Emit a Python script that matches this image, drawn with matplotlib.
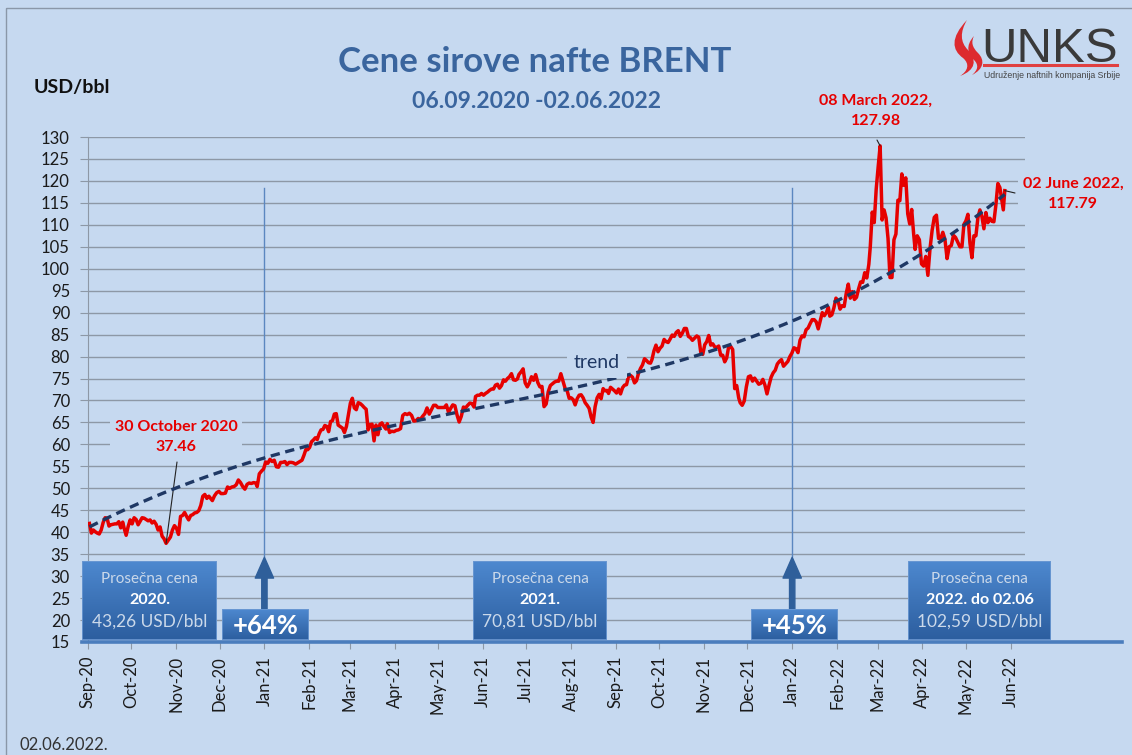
"""Brent crude price chart, Sep 2020 - Jun 2022, with trend and yearly averages."""

import matplotlib

matplotlib.use("Agg")

import matplotlib.dates as mdates
import matplotlib.pyplot as plt
import matplotlib.transforms as mtransforms
import numpy as np
import pandas as pd
from matplotlib.lines import Line2D
from matplotlib.patches import PathPatch, Rectangle
from matplotlib.path import Path

# --- data: Brent close, USD/bbl, one list per calendar month ---------------
sep20 = [42.0, 39.8, 40.5, 40.1, 39.8, 39.6, 40.5, 42.2, 43.3, 43.2, 41.4, 41.7,
         41.8, 41.9, 41.9, 42.4, 41.0, 42.3]
oct20 = [40.9, 39.3, 41.3, 42.8, 41.9, 43.3, 42.9, 41.7, 42.5, 43.3, 43.2, 42.9,
         42.6, 42.8, 42.1, 42.5, 41.8, 40.5, 41.2, 39.1, 38.5, 37.46]
nov20 = [38.9, 40.5, 41.5, 40.9, 39.5, 43.6, 43.8, 44.5, 43.6, 42.8, 43.8, 44.0,
         44.4, 44.5, 44.9, 46.1, 48.2, 48.6, 47.7, 48.2, 47.6]
dec20 = [47.2, 48.3, 49.0, 49.3, 48.8, 48.8, 48.9, 50.3, 50.0, 50.3, 50.4, 50.8,
         51.9, 51.3, 50.4, 49.8, 50.9, 51.2, 51.1, 51.3, 51.2]
jan21 = [50.4, 53.3, 53.9, 54.4, 56.0, 55.7, 56.6, 56.1, 56.4, 54.9, 54.8, 55.9,
         55.9, 56.1, 55.4, 55.9, 55.9, 55.8, 55.5, 55.8]
feb21 = [56.4, 57.5, 58.8, 58.8, 59.3, 60.6, 61.0, 61.5, 61.1, 62.4, 63.3, 63.4,
         64.3, 64.1, 62.9, 65.2, 65.4, 66.9, 67.0, 64.4]
mar21 = [63.7, 62.7, 64.1, 66.7, 69.4, 70.5, 68.3, 67.9, 69.5, 69.3, 68.9, 68.4,
         68.0, 63.3, 64.5, 64.6, 60.8, 64.4, 62.2, 64.6, 64.9, 64.1, 63.5]
apr21 = [64.7, 62.7, 63.0, 62.9, 63.2, 63.3, 63.6, 66.6, 67.0, 66.8, 67.1, 66.6,
         65.3, 65.4, 65.9, 65.7, 66.4, 67.0, 68.3, 66.9]
may21 = [68.9, 68.9, 68.4, 68.4, 68.4, 68.4, 69.0, 67.3, 68.2, 69.0, 68.8, 66.7,
         65.1, 66.4, 68.5, 68.3, 68.9, 69.4, 69.3, 68.5]
jun21 = [70.9, 71.2, 71.2, 71.6, 71.2, 71.6, 71.9, 72.3, 72.6, 72.6, 73.5, 73.7,
         72.8, 73.4, 74.7, 74.4, 75.0, 75.4, 76.1, 74.7, 74.6, 74.9]
jul21 = [75.9, 76.5, 77.2, 74.0, 73.1, 74.0, 75.4, 74.6, 75.9, 74.1, 73.1, 73.2,
         68.6, 69.2, 72.0, 73.4, 73.8, 74.2, 74.4, 74.4, 76.1]
aug21 = [72.7, 72.2, 70.5, 70.6, 70.2, 69.0, 70.4, 71.2, 71.3, 70.6, 69.5, 68.9,
         68.2, 66.2, 65.0, 68.6, 70.6, 71.4, 70.4, 72.7, 72.2, 72.3]
sep21 = [71.6, 73.0, 72.6, 72.2, 71.7, 72.6, 71.5, 72.9, 73.5, 73.6, 75.5, 75.7,
         75.3, 74.0, 74.5, 76.2, 77.3, 78.1, 79.5, 79.1, 78.6, 78.5]
oct21 = [79.3, 81.3, 82.6, 81.1, 81.9, 82.4, 83.9, 83.4, 83.2, 84.0, 84.9, 84.6,
         85.5, 85.9, 84.6, 85.3, 86.4, 86.4, 84.6, 84.3, 83.7]
nov21 = [84.7, 84.4, 81.0, 80.5, 82.7, 83.4, 84.8, 82.6, 82.9, 82.2, 82.1, 82.4,
         80.3, 80.3, 78.8, 79.7, 82.3, 82.3, 81.6, 72.7, 73.4, 70.6]
dec21 = [69.5, 68.9, 69.9, 73.1, 75.4, 75.6, 74.4, 75.1, 74.4, 73.7, 73.9, 74.8,
         73.5, 71.5, 73.5, 75.3, 76.3, 76.9, 78.3, 78.9, 79.3, 77.8]
jan22 = [78.9, 80.0, 80.8, 82.0, 81.8, 80.9, 83.7, 84.7, 84.5, 86.1, 86.5, 87.5,
         88.4, 88.4, 87.9, 86.3, 88.2, 90.0, 89.3, 90.0, 91.2]
feb22 = [89.2, 89.5, 91.1, 93.3, 92.7, 90.8, 91.6, 91.4, 94.4, 96.5, 93.3, 94.8,
         93.0, 93.5, 95.4, 97.0, 96.9, 99.1, 97.9, 101.0]
mar22 = [105.0, 112.9, 110.5, 118.1, 123.2, 127.98, 111.1, 113.4, 111.6, 106.9,
         98.0, 98.0, 106.6, 107.9, 115.6, 115.5, 121.6, 119.0, 120.7, 112.5,
         110.2, 113.5, 107.9]
apr22 = [104.4, 107.5, 106.6, 101.1, 100.6, 102.8, 98.5, 104.6, 108.8, 111.7,
         112.2, 106.9, 106.8, 108.3, 106.7, 102.3, 105.0, 105.3, 107.6, 107.1]
may22 = [105.0, 105.0, 110.1, 110.9, 112.4, 105.9, 102.5, 107.5, 107.5, 111.6,
         113.4, 111.9, 109.1, 112.8, 110.5, 111.5, 110.8, 110.7, 114.5, 119.4,
         118.5, 115.6]
jun22 = [113.4, 117.79]

monthly = [sep20, oct20, nov20, dec20, jan21, feb21, mar21, apr21, may21, jun21,
           jul21, aug21, sep21, oct21, nov21, dec21, jan22, feb22, mar22, apr22,
           may22, jun22]
first_day = pd.Timestamp("2020-09-07")
last_day = pd.Timestamp("2022-06-02")

# trend line: days after 06.09.2020 and USD/bbl
trend_days = [0, 57, 122, 156, 181, 211, 244, 313, 382, 444, 491, 525, 556, 594, 617, 636]
trend_vals = [41.6, 48.7, 56.4, 60.2, 62.5, 64.3, 67.0, 71.5, 76.0, 82.2, 88.5, 94.5,
              99.7, 106.6, 112.7, 117.5]

avg_labels = [("2020.", "43,26 USD/bbl"), ("2021.", "70,81 USD/bbl"),
              ("2022. do 02.06", "102,59 USD/bbl")]
change_labels = ["+64%", "+45%"]
change_dates = ["2021-01-06", "2022-01-06"]

# --- style ------------------------------------------------------------------
W, H = 1132, 755
BG = "#c6d9f0"
RED = "#e60000"
NAVY = "#1f3864"
TITLE = "#3a659e"
GRID = "#8d98a6"

plt.rcParams["font.family"] = ["Lato", "DejaVu Sans"]

dates, prices = [], []
for i, vals in enumerate(monthly):
    per = pd.Period("2020-09", "M") + i
    days = pd.bdate_range(max(per.start_time, first_day),
                          min(per.end_time.normalize(), last_day))
    x = np.linspace(mdates.date2num(days[0]), mdates.date2num(days[-1]), len(vals))
    dates.extend(x)
    prices.extend(vals)
dates = np.array(dates)
prices = np.array(prices)

# polynomial (order 3) trend through the values
x0 = mdates.date2num(pd.Timestamp("2020-09-06"))
t = dates - x0
trend = np.polyval(np.polyfit(trend_days, trend_vals, 3), t)

fig = plt.figure(figsize=(W / 100, H / 100), dpi=100, facecolor=BG)
px = mtransforms.Affine2D().scale(1 / W, -1 / H).translate(0, 1) + fig.transFigure

ax = fig.add_axes([88 / W, 1 - 642 / H, (1025 - 88) / W, (642 - 137) / H])
ax.set_facecolor(BG)

ax.plot(dates, prices, color=RED, lw=2.5, zorder=3)
ax.plot(dates, trend, color=NAVY, lw=2.4, ls=(0, (2.8, 1.7)), zorder=4)

ax.set_xlim(x0, x0 + 648)
ax.set_ylim(15, 130)
ax.set_yticks(np.arange(15, 131, 5))
ticks = pd.date_range("2020-09-06", "2022-06-06", freq=pd.DateOffset(months=1))
ax.set_xticks(mdates.date2num(ticks))
ax.set_xticklabels([d.strftime("%b-%y") for d in ticks], rotation=90, fontsize=12)
ax.tick_params(axis="y", length=6, color=GRID, labelsize=12, pad=7, labelcolor="#1a1a1a")
ax.tick_params(axis="x", length=5, color=GRID, pad=5, labelcolor="#1a1a1a")
ax.yaxis.grid(True, color=GRID, lw=1.0)
ax.set_axisbelow(True)
for side in ("top", "right", "bottom"):
    ax.spines[side].set_visible(False)
ax.spines["left"].set_color(GRID)

# vertical markers and arrows at the year boundaries
for d in change_dates:
    xd = mdates.date2num(pd.Timestamp(d))
    ax.plot([xd, xd], [34.5, 118.4], color="#5b87c0", lw=1.0, zorder=2, clip_on=False)
    ax.annotate("", xy=(xd, 34.3), xytext=(xd, 22.4), annotation_clip=False,
                arrowprops=dict(arrowstyle="simple,head_length=1.25,head_width=1.1,tail_width=0.32",
                                color="#2f5f9a", mutation_scale=12, shrinkA=0, shrinkB=0))

# trend label
ax.text(mdates.date2num(pd.Timestamp("2021-09-01")) - 8, 78.6, "trend", fontsize=14,
        color=NAVY, ha="center", va="center", zorder=5,
        bbox=dict(boxstyle="square,pad=0.35", fc=BG, ec="none"))

# point labels
i_min = int(np.argmin(prices[:80]))
i_max = int(np.argmax(prices))
lab = dict(fontsize=11.5, fontweight="bold", color=RED, ha="center", va="center",
           linespacing=1.55, transform=px, zorder=6)
box = dict(boxstyle="square,pad=0.3", fc=BG, ec="none")
fig.text(176, 437, f"30 October 2020\n{prices[i_min]:.2f}", bbox=box, **lab)
fig.text(876, 111, f"08 March 2022,\n{prices[i_max]:.2f}", bbox=box, **lab)
fig.text(1073, 194, f"02 June 2022,\n{prices[-1]:.2f}", bbox=box, **lab)
lead = dict(arrowstyle="-", color="#222222", lw=0.8, shrinkA=0, shrinkB=0)
ax.annotate("", xy=(dates[i_min], prices[i_min]), xytext=(177, 462), textcoords=px,
            arrowprops=lead, annotation_clip=False)
ax.annotate("", xy=(dates[i_max], prices[i_max]), xytext=(877, 140), textcoords=px,
            arrowprops=lead, annotation_clip=False)
ax.annotate("", xy=(dates[-1], prices[-1]), xytext=(1015, 193), textcoords=px,
            arrowprops=lead, annotation_clip=False)

# baseline bar
fig.add_artist(Line2D([82, 1122], [642, 642], transform=px, color="#4a7dbd", lw=2.6))


def blue_box(x0, y0, x1, y1):
    bax = fig.add_axes([x0 / W, 1 - y1 / H, (x1 - x0) / W, (y1 - y0) / H])
    grad = np.linspace(0, 1, 64).reshape(-1, 1)
    bax.imshow(grad, aspect="auto", extent=(0, 1, 0, 1), origin="upper",
               cmap=matplotlib.colors.LinearSegmentedColormap.from_list(
                   "b", ["#4d88cf", "#2c5e9f"]))
    bax.add_patch(Rectangle((0, 0), 1, 1, transform=bax.transAxes, fill=False,
                            ec="#6d9ad3", lw=1.2))
    bax.axis("off")


light = "#cbd9ea"
for (x0b, x1b), (year, avg) in zip([(82, 217), (473, 607), (908, 1051)], avg_labels):
    blue_box(x0b, 561, x1b, 640)
    xc = (x0b + x1b) / 2
    fig.text(xc, 579, "Prosečna cena", transform=px, ha="center", va="center",
             fontsize=11, color=light)
    fig.text(xc, 600, year, transform=px, ha="center", va="center",
             fontsize=11.5, fontweight="bold", color="white")
    fig.text(xc, 622, avg, transform=px, ha="center", va="center",
             fontsize=12.5, color=light)

for (x0b, x1b), txt in zip([(222, 309), (751, 838)], change_labels):
    blue_box(x0b, 609, x1b, 640)
    fig.text((x0b + x1b) / 2, 626, txt, transform=px, ha="center", va="center",
             fontsize=18.5, fontweight="bold", color="white")

# titles
fig.text(535, 62, "Cene sirove nafte BRENT", transform=px, ha="center", va="center",
         fontsize=25, fontweight="bold", color=TITLE)
fig.text(536, 101, "06.09.2020 -02.06.2022", transform=px, ha="center", va="center",
         fontsize=16.5, fontweight="bold", color=TITLE)
fig.text(34, 87, "USD/bbl", transform=px, ha="left", va="center",
         fontsize=14, fontweight="bold", color="#111111")
fig.text(19, 745, "02.06.2022.", transform=px, ha="left", va="center",
         fontsize=12, color="#333333")

# logo
fig.text(981, 62, "UNKS", transform=px, ha="left", va="baseline", fontsize=35.5,
         family="Liberation Sans", color="#3a3a3a")
fig.add_artist(Line2D([984, 1117], [65, 65], transform=px, color="#e04040", lw=2.2))
fig.text(984, 75, "Udruženje naftnih kompanija Srbije", transform=px, ha="left",
         va="center", fontsize=6.3, family="Liberation Sans", color="#444444")
C4 = Path.CURVE4
flame_outer = Path([(967, 20), (950, 38), (952, 50), (963, 58), (970, 64), (968, 71),
                    (960, 76), (976, 70), (977, 60), (968, 50), (960, 42), (960, 32),
                    (967, 20)],
                   [Path.MOVETO, C4, C4, C4, C4, C4, C4, C4, C4, C4, C4, C4, C4])
flame_inner = Path([(974, 36), (965, 46), (968, 54), (974, 60), (979, 65), (978, 70),
                    (972, 75), (984, 69), (985, 60), (978, 53), (972, 47), (971, 42),
                    (974, 36)],
                   [Path.MOVETO, C4, C4, C4, C4, C4, C4, C4, C4, C4, C4, C4, C4])
for p in (flame_outer, flame_inner):
    fig.add_artist(PathPatch(p, transform=px, fc="#dd2a2f", ec="none"))

# frame
fig.add_artist(Rectangle((6, 8), 1140, 760, transform=px, fill=False,
                         ec="#8a97a8", lw=1.0))

fig.savefig("out.png", dpi=100, facecolor=BG)
